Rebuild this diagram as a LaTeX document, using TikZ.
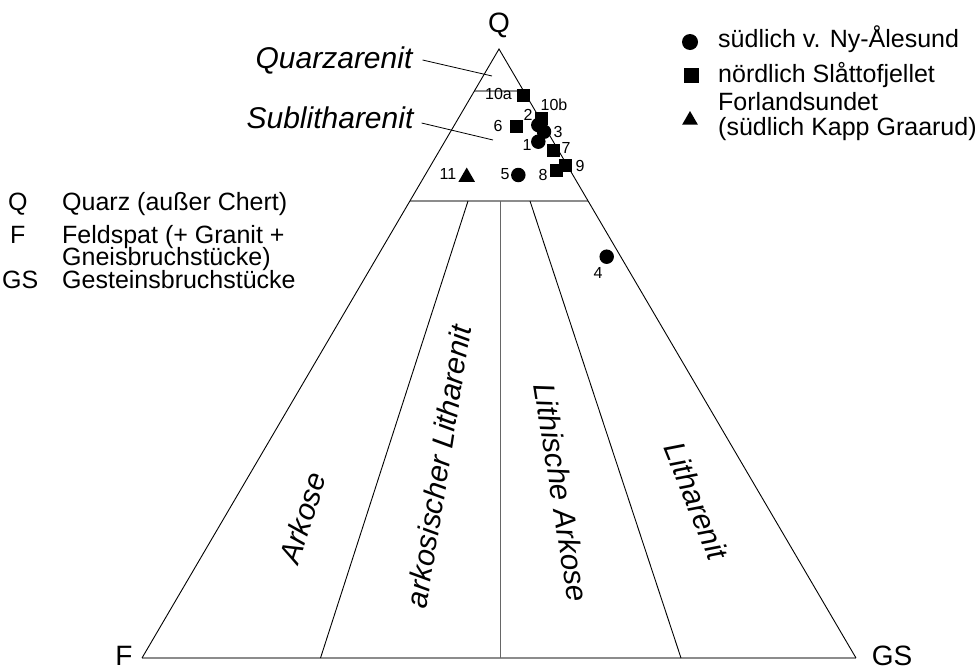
\documentclass[tikz,border=0pt]{standalone}
\usepackage{fontspec}
\setmainfont{Liberation Sans}
\usetikzlibrary{shapes.geometric}
\begin{document}
\begin{tikzpicture}[x=1pt,y=-1pt,
  edge/.style={line width=0.9pt, black},
  grayline/.style={line width=1.1pt, black!45},
  leader/.style={line width=0.8pt, black},
  sq/.style={rectangle, fill=black, minimum size=13pt, inner sep=0pt},
  ci/.style={circle, fill=black, minimum size=14.5pt, inner sep=0pt},
  tri/.style={regular polygon, regular polygon sides=3, fill=black, minimum size=19pt, inner sep=0pt},
  num/.style={font=\fontsize{16}{16}\selectfont, inner sep=0pt},
  field/.style={font=\fontsize{30}{30}\selectfont\itshape, inner sep=0pt},
  apex/.style={font=\fontsize{28}{28}\selectfont, inner sep=0pt},
  leg/.style={font={\fontsize{25}{22}\selectfont\lineskiplimit=-30pt}, inner sep=0pt, anchor=base west, align=left},
]
\useasboundingbox (0,0) rectangle (979,670);

% vertices
\coordinate (Q) at (499,49);
\coordinate (F) at (142,658);
\coordinate (G) at (856,658);

% field boundaries
\coordinate (q95l) at (474.4,91);
\coordinate (q95r) at (523.6,91);
\coordinate (q75l) at (409.9,201);
\coordinate (q75r) at (588.1,201);
\coordinate (d1t) at (468,201);
\coordinate (d1b) at (320.5,658);
\coordinate (d2t) at (500,201);
\coordinate (d2b) at (500,658);
\coordinate (d3t) at (530,201);
\coordinate (d3b) at (681,658);

\draw[grayline] (q95l) -- (q95r);
\draw[grayline] (q75l) -- (q75r);
\draw[grayline] (F) -- (G);
\draw[grayline, line width=0.9pt, black!60] (d2t) -- (d2b);
\draw[edge] (d1t) -- (d1b);
\draw[edge] (d3t) -- (d3b);
\draw[edge] (F) -- (Q) -- (G);

% vertex labels
\node[apex] (lQ) at (499,25) {Q};
\node[apex] (lF) at (124,656) {F};
\node[apex] (lG) at (892,656) {GS};

% field names
\node[field] (qa) at (334,60) {Quarzarenit};
\coordinate (qaend) at (492,76);
\draw[leader] ([xshift=10pt]qa.east) -- (qaend);
\node[field] (sl) at (330,118) {Sublitharenit};
\coordinate (slend) at (493,140);
\draw[leader] ([xshift=8pt,yshift=-5pt]sl.east) -- (slend);

\node[field, rotate=72] (ark) at (302.5,518) {Arkose};
\node[field, rotate=81] (akl) at (438.5,466.5) {arkosischer Litharenit};
\node[field, rotate=-81] (lia) at (561.5,492.5) {Lithische Arkose};
\node[field, rotate=-68] (lit) at (696.5,501) {Litharenit};

% data points
\node[sq] (p10b) at (541.5,118) {};
\node[sq] (p10a) at (523.3,95) {};
\node[sq] (p6) at (516.7,126) {};
\node[ci] (p2) at (538.3,125) {};
\node[ci] (p3) at (544,131.7) {};
\node[ci] (p1) at (538.3,141.7) {};
\node[sq] (p7) at (553.3,150.7) {};
\node[sq] (p8) at (556.7,170) {};
\node[sq] (p9) at (565,165) {};
\node[ci] (p5) at (518.3,175) {};
\node[tri] (p11) at (466.7,177) {};
\node[ci] (p4) at (606.7,256.7) {};

\node[num, anchor=east] (n10a) at (512,94) {10a};
\node[num] (n10b) at (554,105) {10b};
\node[num] (n2) at (528,115) {2};
\node[num] (n6) at (498,126) {6};
\node[num] (n3) at (558,132) {3};
\node[num] (n1) at (527,145) {1};
\node[num] (n7) at (566,148) {7};
\node[num] (n9) at (580,166) {9};
\node[num] (n8) at (543,175) {8};
\node[num] (n5) at (505,174) {5};
\node[num] (n11) at (448,174) {11};
\node[num] (n4) at (598,273) {4};

% left legend
\node[leg] (lq) at (8,210) {Q};
\node[leg] (lqt) at (62,210) {Quarz (außer Chert)};
\node[leg] (lf) at (10,243) {F};
\node[leg] (lft) at (62,265) {Feldspat (+ Granit +\\Gneisbruchstücke)};
\node[leg] (lg) at (2,288) {GS};
\node[leg] (lgt) at (62,288) {Gesteinsbruchstücke};

% right legend
\node[ci, minimum size=16pt] (m1) at (690,42) {};
\node[leg] (t1) at (718,47) {südlich v. Ny-Ålesund};
\node[sq, minimum size=15pt] (m2) at (691,75) {};
\node[leg] (t2) at (718,82) {nördlich Slåttofjellet};
\node[tri, minimum size=18pt] (m3) at (690,120) {};
\node[leg, font={\fontsize{25}{24.3}\selectfont\lineskiplimit=-30pt}] (t3) at (718,135) {Forlandsundet\\(südlich Kapp Graarud)};
\end{tikzpicture}
\end{document}
